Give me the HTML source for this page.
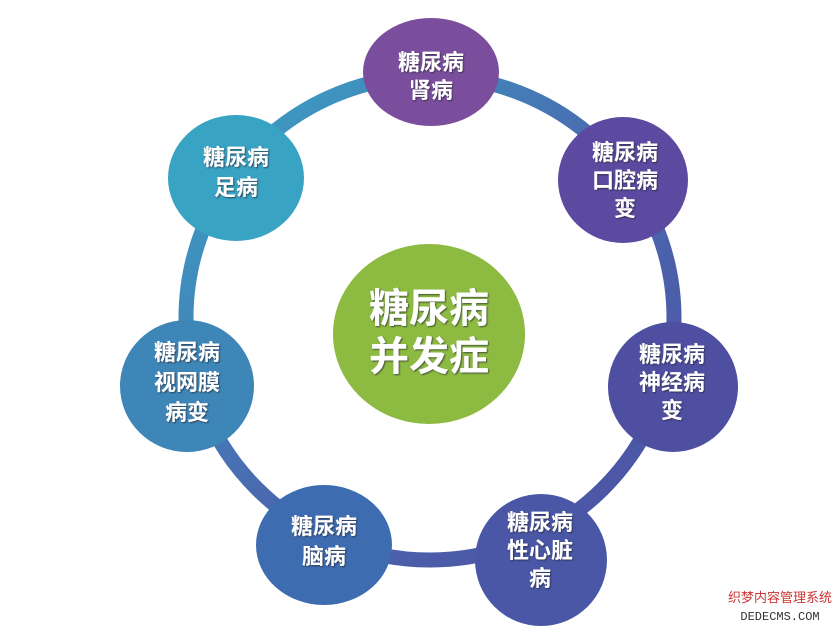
<!DOCTYPE html>
<html><head><meta charset="utf-8"><style>
html,body{margin:0;padding:0;background:#fff;}
svg text{font-family:"Liberation Sans","Noto Sans CJK SC",sans-serif;font-weight:bold;fill:#fff;text-anchor:middle;}
</style></head><body>
<svg width="836" height="626" viewBox="0 0 836 626" xmlns="http://www.w3.org/2000/svg">
<defs>
<linearGradient id="g" x1="0" y1="0" x2="1" y2="1">
<stop offset="0" stop-color="#38a8c6"/>
<stop offset="0.5" stop-color="#4a6ab0"/>
<stop offset="1" stop-color="#4d4fa2"/>
</linearGradient>
<filter id="s"><feDropShadow dx="1" dy="1" stdDeviation="0.8" flood-color="#223" flood-opacity="0.7"/></filter>
</defs>
<ellipse cx="430" cy="318" rx="244" ry="242" fill="none" stroke="url(#g)" stroke-width="15"/>
<ellipse cx="431" cy="72" rx="68" ry="54" fill="#7a4e9c"/>
<ellipse cx="623" cy="180" rx="65" ry="63" fill="#5b4a9f"/>
<ellipse cx="673" cy="387" rx="65" ry="65" fill="#4f4fa2"/>
<ellipse cx="541" cy="560" rx="66" ry="66" fill="#4957a6"/>
<ellipse cx="324" cy="545" rx="68" ry="60" fill="#3e6cb1"/>
<ellipse cx="187" cy="386" rx="67" ry="66" fill="#3d86b7"/>
<ellipse cx="236" cy="178" rx="68" ry="63" fill="#39a3c3"/>
<ellipse cx="429" cy="334" rx="96" ry="90" fill="#8dba40"/>
<g filter="url(#s)" font-size="22">
<text x="431" y="70">糖尿病</text><text x="431" y="98">肾病</text>
<text x="625" y="160">糖尿病</text><text x="625" y="188">口腔病</text><text x="625" y="216">变</text>
<text x="672" y="362">糖尿病</text><text x="672" y="390">神经病</text><text x="672" y="418">变</text>
<text x="540" y="530">糖尿病</text><text x="540" y="558">性心脏</text><text x="540" y="586">病</text>
<text x="324" y="534">糖尿病</text><text x="324" y="564">脑病</text>
<text x="187" y="360">糖尿病</text><text x="187" y="390">视网膜</text><text x="187" y="420">病变</text>
<text x="236" y="165">糖尿病</text><text x="236" y="195">足病</text>
</g>
<g filter="url(#s)" font-size="40">
<text x="429" y="322">糖尿病</text><text x="429" y="370">并发症</text>
</g>
<text x="780" y="602" font-size="13" style="fill:#c33;font-weight:normal">织梦内容管理系统</text>
<text x="780" y="620" font-size="12" style="fill:#333;font-weight:normal;font-family:'Liberation Mono',monospace">DEDECMS.COM</text>
</svg>
</body></html>
